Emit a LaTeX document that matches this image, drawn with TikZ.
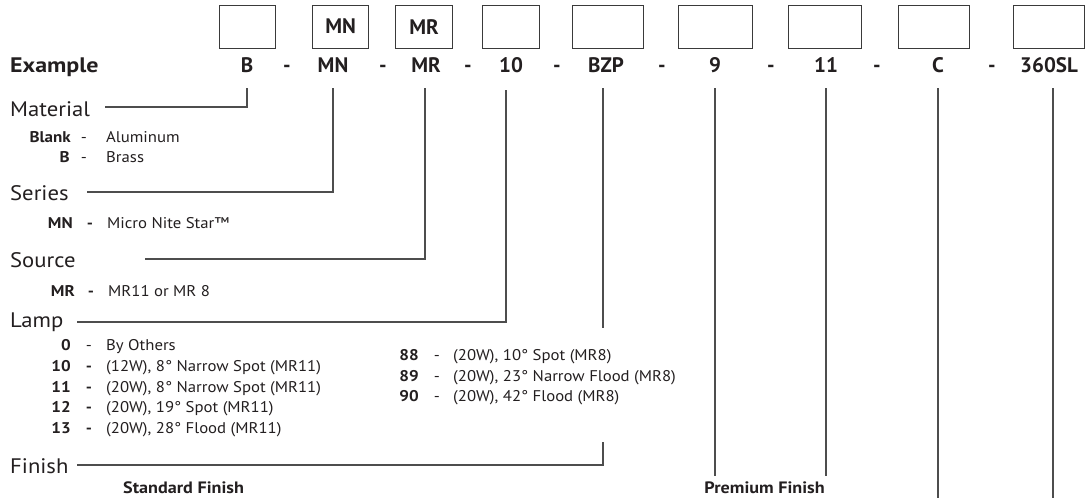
\documentclass[tikz,border=0pt]{standalone}
\usepackage{fontspec}
\setmainfont{PT Sans}[FakeStretch=1.08, BoldFeatures={FakeStretch=1.1}]
\newfontfamily\codefont{PT Sans}
\newfontfamily\exfont{PT Sans Bold}[FakeStretch=1.14]
\definecolor{txt}{HTML}{231F20}
\definecolor{linec}{HTML}{4D4D4D}
\definecolor{boxc}{HTML}{3A3A3A}
\begin{document}
\begin{tikzpicture}[x=1pt,y=-1pt,
  box/.style={draw=boxc, line width=1.1pt, minimum height=43pt, inner sep=0, anchor=north west,
              font=\codefont\fontsize{21}{24}\selectfont\bfseries, text=txt},
  code/.style={font=\codefont\fontsize{21}{24}\selectfont\bfseries, inner sep=0, anchor=base, text=txt},
  head/.style={font=\fontsize{21}{24}\selectfont, inner sep=0, anchor=base west, text=txt},
  num/.style={font=\fontsize{15.5}{18}\selectfont\bfseries, inner sep=0, anchor=base east, text=txt},
  dsh/.style={font=\fontsize{15.5}{18}\selectfont, inner sep=0, anchor=base, text=txt},
  bdsh/.style={font=\fontsize{15.5}{18}\selectfont\bfseries, inner sep=0, anchor=base, text=txt},
  desc/.style={font=\fontsize{15.5}{18}\selectfont, inner sep=0, anchor=base west, text=txt},
  sub/.style={font=\fontsize{16.5}{19}\selectfont\bfseries, inner sep=0, anchor=base west, text=txt},
  conn/.style={draw=linec, line width=1.2pt}]
\useasboundingbox (0,0) rectangle (1085,498);

% boxes
\node[box, minimum width=56pt] (bx1) at (219,4.5) {};
\node[box, minimum width=56pt] (bx2) at (312,4.5) {MN};
\node[box, minimum width=57pt] (bx3) at (395,4.5) {MR};
\node[box, minimum width=57pt] (bx4) at (482,4.5) {};
\node[box, minimum width=71pt] (bx5) at (572,4.5) {};
\node[box, minimum width=74pt] (bx6) at (678,4.5) {};
\node[box, minimum width=73pt] (bx7) at (788,4.5) {};
\node[box, minimum width=71pt] (bx8) at (898,4.5) {};
\node[box, minimum width=71pt] (bx9) at (1013,4.5) {};

% example row
\node[code, anchor=base west, font=\exfont\fontsize{21}{24}\selectfont] (cEx) at (10,72) {Example};
\node[code] (cB) at (247,72) {B};
\node[code] (h1) at (287,72) {-};
\node[code] (cMN) at (333,72) {MN};
\node[code] (h2) at (383,72) {-};
\node[code] (cMR) at (426,72) {MR};
\node[code] (h3) at (468,72) {-};
\node[code] (c10) at (511,72) {10};
\node[code] (h4) at (557,72) {-};
\node[code] (cBZP) at (606,72) {BZP};
\node[code] (h5) at (662,72) {-};
\node[code] (c9) at (715,72) {9};
\node[code] (h6) at (771,72) {-};
\node[code] (c11) at (826,72) {11};
\node[code] (h7) at (877,72) {-};
\node[code] (cC) at (938,72) {C};
\node[code] (h8) at (992,72) {-};
\node[code] (c360) at (1049,72) {360SL};

% headings
\node[head] (hMat) at (10,116) {Material};
\node[head] (hSer) at (10,200) {Series};
\node[head] (hSrc) at (10,267) {Source};
\node[head] (hLamp) at (10,327) {Lamp};
\node[head] (hFin) at (10,473) {Finish};

% material
\node[num] (nBlank) at (71,142) {Blank};
\node[dsh] (dBlank) at (84,142) {-};
\node[desc] (tBlank) at (106,142) {Aluminum};
\node[num] (nB) at (70,162) {B};
\node[dsh] (dB) at (84,162) {-};
\node[desc] (tBr) at (106,162) {Brass};
% series
\node[num] (nMN) at (73,228) {MN};
\node[bdsh] (dMN) at (90,228) {-};
\node[desc] (tMN) at (107,228) {Micro Nite Star™};
% source
\node[num] (nMR) at (75,296) {MR};
\node[bdsh] (dMR) at (91,296) {-};
\node[desc] (tMR) at (108,296) {MR11 or MR 8};
% lamp
\node[num] (n0) at (71,350) {0};
\node[dsh] (d0) at (89,350) {-};
\node[desc] (l0) at (106,350) {By Others};
\node[num] (n10) at (71,371) {10};
\node[bdsh] (d10) at (89,371) {-};
\node[desc] (l10) at (106,371) {(12W), 8° Narrow Spot (MR11)};
\node[num] (n11) at (71,392) {11};
\node[bdsh] (d11) at (89,392) {-};
\node[desc] (l11) at (106,392) {(20W), 8° Narrow Spot (MR11)};
\node[num] (n12) at (71,412) {12};
\node[bdsh] (d12) at (89,412) {-};
\node[desc] (l12) at (106,412) {(20W), 19° Spot (MR11)};
\node[num] (n13) at (71,433) {13};
\node[bdsh] (d13) at (89,433) {-};
\node[desc] (l13) at (106,433) {(20W), 28° Flood (MR11)};
\node[num] (n88) at (419,360) {88};
\node[dsh] (d88) at (437,360) {-};
\node[desc] (l88) at (453,360) {(20W), 10° Spot (MR8)};
\node[num] (n89) at (419,381) {89};
\node[dsh] (d89) at (437,381) {-};
\node[desc] (l89) at (453,381) {(20W), 23° Narrow Flood (MR8)};
\node[num] (n90) at (419,401) {90};
\node[dsh] (d90) at (437,401) {-};
\node[desc] (l90) at (453,401) {(20W), 42° Flood (MR8)};
% finish
\node[sub] (stdF) at (123,493) {Standard Finish};
\node[sub, anchor=base east] (preF) at (825,493) {Premium Finish};

% connector coordinates
\coordinate (tB) at (247,88);
\coordinate (tMNl) at (333,88);
\coordinate (tMRl) at (425,88);
\coordinate (t10) at (506,90);
\coordinate (tBZP) at (603,88);
\coordinate (t9) at (715,88);
\coordinate (t11) at (826,88);
\coordinate (tC) at (938,88);
\coordinate (t360) at (1053,88);
\coordinate (eMat) at (105,107);
\coordinate (eSer) at (87,192);
\coordinate (eSrc) at (145,259);
\coordinate (eLamp) at (77,322);
\coordinate (eFin) at (77,465);
\coordinate (gA) at (603,328);
\coordinate (gB) at (603,442);
\coordinate (e9) at (715,476);
\coordinate (e11) at (826,476);
\coordinate (eC) at (938,498);
\coordinate (e360) at (1053,498);

\draw[conn] (tB) |- (eMat);
\draw[conn] (tMNl) |- (eSer);
\draw[conn] (tMRl) |- (eSrc);
\draw[conn] (t10) |- (eLamp);
\draw[conn] (tBZP) -- (gA);
\draw[conn] (gB) |- (eFin);
\draw[conn] (t9) -- (e9);
\draw[conn] (t11) -- (e11);
\draw[conn] (tC) -- (eC);
\draw[conn] (t360) -- (e360);
\end{tikzpicture}
\end{document}
